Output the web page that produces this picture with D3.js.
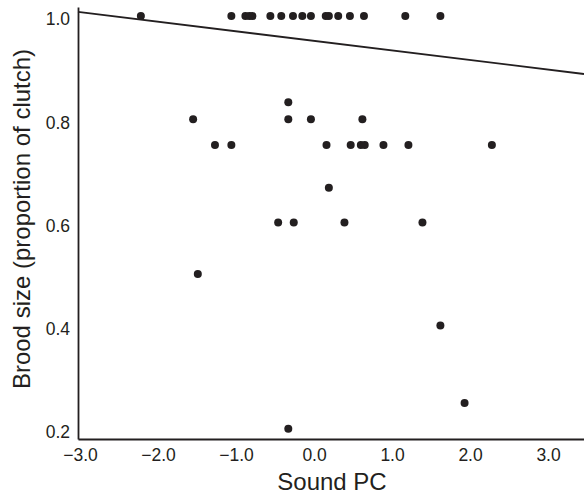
<!DOCTYPE html>
<html>
<head>
<meta charset="utf-8">
<script src="https://cdn.jsdelivr.net/npm/d3@7"></script>
<style>
  html, body { margin: 0; padding: 0; background: #fff; }
  svg { display: block; font-family: "Liberation Sans", Arial, Helvetica, sans-serif; }
</style>
</head>
<body>
<svg id="chart" width="584" height="496"></svg>
<script>
// Data (Sound PC vs brood size)
const soundPC = [
  -2.22, -1.06, -0.88, -0.83, -0.79, -0.56, -0.42, -0.27, -0.15, -0.04, 0.15, 0.19, 0.31, 0.46, 0.64, 1.17, 1.62,
  -0.33,
  -1.55, -0.33, -0.04, 0.62,
  -1.27, -1.06, 0.16, 0.47, 0.60, 0.65, 0.89, 1.21, 2.28,
  0.19,
  -0.46, -0.26, 0.39, 1.39,
  -1.49,
  1.62,
  1.93,
  -0.33
];
const broodSize = [
  1, 1, 1, 1, 1, 1, 1, 1, 1, 1, 1, 1, 1, 1, 1, 1, 1,
  0.833,
  0.8, 0.8, 0.8, 0.8,
  0.75, 0.75, 0.75, 0.75, 0.75, 0.75, 0.75, 0.75, 0.75,
  0.667,
  0.6, 0.6, 0.6, 0.6,
  0.5,
  0.4,
  0.25,
  0.2
];
const xTicks = [-3, -2, -1, 0, 1, 2, 3];
const yTicks = [0.2, 0.4, 0.6, 0.8, 1.0];
const regression = [0.9518, -0.01856]; // intercept, slope
const xDomain = [-3.026, 3.461];
const yDomain = [0.1802, 1.0174];

(function () {
const svg = d3.select("#chart");
const mLeft = 78, mRight = 584, mTop = 7, mBottom = 439;
const ink = "#231f20";

const x = d3.scaleLinear().domain(xDomain).range([mLeft, mRight]);
const y = d3.scaleLinear().domain(yDomain).range([mBottom, mTop]);

const fmtX = v => (v < 0 ? "\u2212" : "") + Math.abs(v).toFixed(1);

// Axes (no tick marks)
const xAxis = d3.axisBottom(x).tickValues(xTicks).tickSize(0).tickPadding(10).tickFormat(fmtX);
const yAxis = d3.axisLeft(y).tickValues(yTicks).tickSize(0).tickPadding(8).tickFormat(d3.format(".1f"));

const gx = svg.append("g").attr("transform", `translate(0,${mBottom})`).call(xAxis);
const gy = svg.append("g").attr("transform", `translate(${mLeft},0)`).call(yAxis);
[gx, gy].forEach(g => {
  g.select(".domain").attr("stroke", ink).attr("stroke-width", 1.8);
  g.selectAll("text").attr("fill", ink).attr("font-size", 17.5)
    .attr("font-family", "'Liberation Sans', Arial, sans-serif");
});
gy.selectAll("text").attr("dy", null).attr("dominant-baseline", null)
  .attr("y", 0).attr("transform", "translate(0,9)");

// Regression line
const lineData = xDomain.map(v => [v, regression[0] + regression[1] * v]);
svg.append("path")
  .datum(lineData)
  .attr("fill", "none")
  .attr("stroke", ink)
  .attr("stroke-width", 1.8)
  .attr("d", d3.line().x(d => x(d[0])).y(d => y(d[1])));

// Points
svg.append("g").selectAll("circle")
  .data(soundPC.map((v, i) => [v, broodSize[i]]))
  .join("circle")
  .attr("cx", d => x(d[0]))
  .attr("cy", d => y(d[1]))
  .attr("r", 4)
  .attr("fill", ink);

// Axis titles
svg.append("text")
  .attr("x", 332).attr("y", 490)
  .attr("text-anchor", "middle")
  .attr("font-size", 24)
  .attr("fill", ink)
  .text("Sound PC");

svg.append("text")
  .attr("transform", `translate(30,219) rotate(-90)`)
  .attr("text-anchor", "middle")
  .attr("font-size", 24)
  .attr("fill", ink)
  .text("Brood size (proportion of clutch)");
})();
</script>
</body>
</html>
